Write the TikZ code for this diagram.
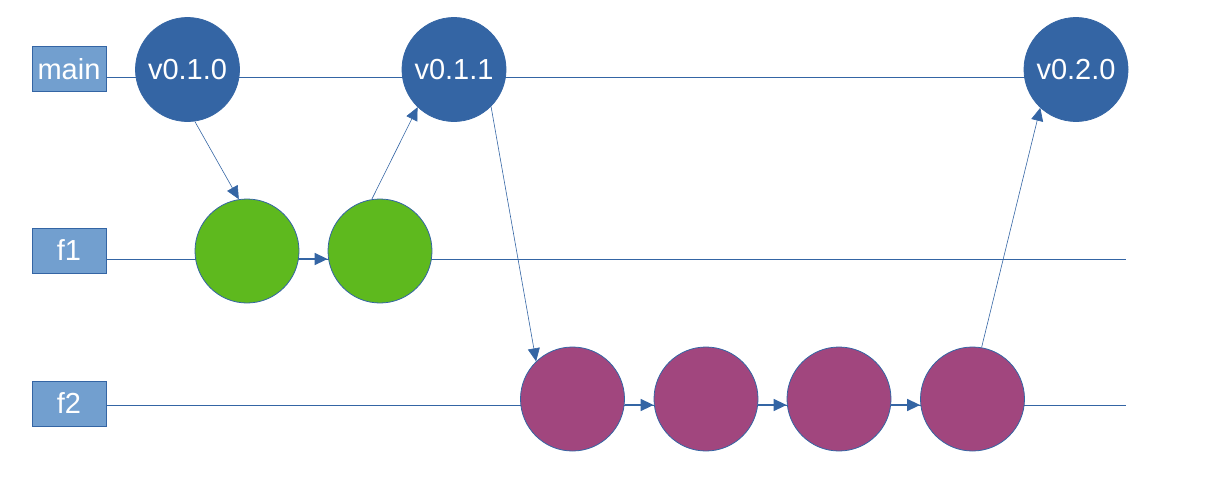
\documentclass[tikz,border=0pt]{standalone}
\usepackage{fontspec}
\setmainfont{Liberation Sans}
\usetikzlibrary{arrows.meta,backgrounds}
\definecolor{lineblue}{HTML}{3465A4}
\definecolor{lblfill}{HTML}{729FCF}
\definecolor{commitgreen}{HTML}{5EB91E}
\definecolor{commitpurple}{HTML}{A1467E}
\tikzset{
  branchlbl/.style={draw=lineblue, fill=lblfill, line width=1pt, minimum width=74pt, minimum height=45pt, inner sep=0pt, text=white, font=\fontsize{29}{31}\selectfont},
  commit/.style={circle, draw=lineblue, line width=0.8pt, minimum size=104pt, inner sep=0pt, text=white, font=\fontsize{29}{31}\selectfont},
  tagc/.style={commit, fill=lineblue},
  greenc/.style={commit, fill=commitgreen},
  purplec/.style={commit, fill=commitpurple},
  branchline/.style={draw=lineblue, line width=1pt},
  mergearrow/.style={draw=lineblue, line width=0.6pt, -{Triangle[length=13pt,width=12pt]}},
  steparrow/.style={draw=lineblue, line width=1.5pt, -{Triangle[length=13pt,width=12pt]}}
}
\begin{document}
\begin{tikzpicture}[x=1pt,y=-1pt]
\useasboundingbox (0,0) rectangle (1210,479);
% labels
\node[branchlbl] (mainlbl) at (69,69) {main};
\node[branchlbl] (f1lbl) at (69,250.5) {f1};
\node[branchlbl] (f2lbl) at (69,403.5) {f2};
% commits
\node[tagc] (v010) at (187.5,69.5) {v0.1.0};
\node[tagc] (v011) at (454,69.5) {v0.1.1};
\node[tagc] (v020) at (1076,69.5) {v0.2.0};
\node[greenc] (g1) at (247,251) {};
\node[greenc] (g2) at (380,251) {};
\node[purplec] (p1) at (572.5,399) {};
\node[purplec] (p2) at (706,399) {};
\node[purplec] (p3) at (839,399) {};
\node[purplec] (p4) at (972.5,399) {};
\coordinate (mainstart) at (106,77);
\coordinate (mainend) at (1076,77);
\coordinate (f1start) at (106,259);
\coordinate (f1end) at (1126,259);
\coordinate (f2start) at (106,405);
\coordinate (f2end) at (1126,405);
\begin{scope}[on background layer]
  \draw[branchline] (mainstart) -- (mainend);
  \draw[branchline] (f1start) -- (f1end);
  \draw[branchline] (f2start) -- (f2end);
\end{scope}
% step arrows
\draw[steparrow] (g1.east |- f1end) -- (g2.west |- f1end);
\draw[steparrow] (p1.east |- f2end) -- (p2.west |- f2end);
\draw[steparrow] (p2.east |- f2end) -- (p3.west |- f2end);
\draw[steparrow] (p3.east |- f2end) -- (p4.west |- f2end);
% merge / branch arrows
\draw[mergearrow] (v010.-82) -- (g1.99);
\draw[mergearrow] (g2.99) -- (v011.-134);
\draw[mergearrow] (v011.-45) -- (p1.134);
\draw[mergearrow] (p4.80) -- (v020.-133);
\end{tikzpicture}
\end{document}
